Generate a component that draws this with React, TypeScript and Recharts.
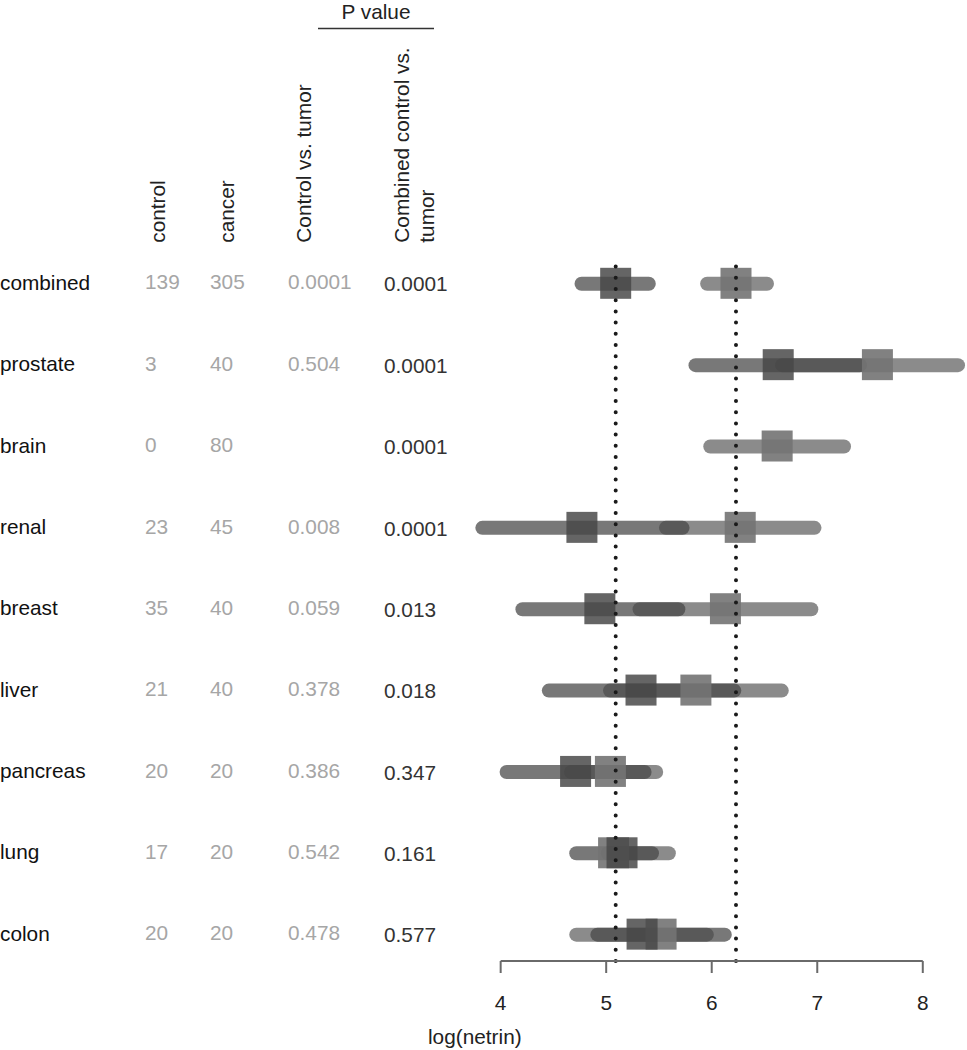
import React from 'react';
import { ComposedChart, Bar, XAxis, YAxis, ReferenceLine } from 'recharts';

// ---- data ----
const categories = ['combined', 'prostate', 'brain', 'renal', 'breast', 'liver', 'pancreas', 'lung', 'colon'];
const controlN = ['139', '3', '0', '23', '35', '21', '20', '17', '20'];
const cancerN = ['305', '40', '80', '45', '40', '40', '20', '20', '20'];
const pControlVsTumor = ['0.0001', '0.504', '', '0.008', '0.059', '0.378', '0.386', '0.542', '0.478'];
const pCombinedVsTumor = ['0.0001', '0.0001', '0.0001', '0.0001', '0.013', '0.018', '0.347', '0.161', '0.577'];

const controlLow = [4.70, 5.78, null, 3.76, 4.14, 4.39, 3.99, 4.65, 4.85];
const controlHigh = [5.47, 7.47, null, 5.79, 5.75, 6.28, 5.43, 5.50, 6.19];
const controlMedian = [5.09, 6.63, null, 4.77, 4.94, 5.33, 4.71, 5.15, 5.34];
const cancerLow = [5.89, 6.60, 5.92, 5.50, 5.25, 4.97, 4.60, 4.95, 4.65];
const cancerHigh = [6.59, 8.40, 7.32, 7.04, 7.01, 6.73, 5.54, 5.66, 6.02];
const cancerMedian = [6.23, 7.57, 6.62, 6.27, 6.13, 5.85, 5.04, 5.07, 5.52];

const xTicks = [4, 5, 6, 7, 8];

const data = categories.map((name, i) => ({
  name,
  controlRange: controlLow[i] == null ? null : [controlLow[i], controlHigh[i]],
  cancerRange: cancerLow[i] == null ? null : [cancerLow[i], cancerHigh[i]],
  controlMedian: controlMedian[i],
  cancerMedian: cancerMedian[i],
}));

// ---- styling ----
const FONT = '"Liberation Sans", Arial, Helvetica, sans-serif';
const FS = 20.8;
const GRAY = '#a6a6a6';
const DARK = '#333333';
const BLACK = '#111111';

const CONTROL = { fill: 'rgb(70,70,70)', opacity: 0.73 };
const CANCER = { fill: 'rgb(110,110,110)', opacity: 0.8 };
const CONTROL_SQ = { fill: 'rgb(72,72,72)', opacity: 0.84 };
const CANCER_SQ = { fill: 'rgb(115,115,115)', opacity: 0.9 };

const SQ = 31;
const PILL = 14;

const makePill = (key: string, style: { fill: string; opacity: number }) => (props: any) => {
  const { x, y, width, height, payload } = props;
  if (!payload || payload[key] == null || !isFinite(x) || !isFinite(width)) return <g />;
  return (
    <rect
      x={x}
      y={y}
      width={width}
      height={height}
      rx={height / 2}
      ry={height / 2}
      fill={style.fill}
      fillOpacity={style.opacity}
    />
  );
};

const makeSquare = (key: string, style: { fill: string; opacity: number }) => (props: any) => {
  const { x, y, width, height, payload } = props;
  if (!payload || payload[key] == null || !isFinite(x) || !isFinite(width)) return <g />;
  const cx = x + width;
  const cy = y + height / 2;
  return (
    <rect
      x={cx - SQ / 2}
      y={cy - SQ / 2}
      width={SQ}
      height={SQ}
      fill={style.fill}
      fillOpacity={style.opacity}
    />
  );
};

const COL_LABEL = 0;
const COL_CONTROL = 145;
const COL_CANCER = 210;
const COL_P1 = 288;
const COL_P2 = 384;

const TableTick = (props: any) => {
  const { y, payload } = props;
  const i = categories.indexOf(payload?.value);
  if (i < 0) return <g />;
  const common = { fontFamily: FONT, fontSize: FS, textAnchor: 'start' as const };
  return (
    <g>
      <text x={COL_LABEL} y={y + 6.5} fill={BLACK} {...common}>{categories[i]}</text>
      <text x={COL_CONTROL} y={y + 6} fill={GRAY} {...common}>{controlN[i]}</text>
      <text x={COL_CANCER} y={y + 6} fill={GRAY} {...common}>{cancerN[i]}</text>
      <text x={COL_P1} y={y + 6} fill={GRAY} {...common}>{pControlVsTumor[i]}</text>
      <text x={COL_P2} y={y + 8} fill={DARK} {...common}>{pCombinedVsTumor[i]}</text>
    </g>
  );
};

const catPadding = { top: -19.2, bottom: -14 };
const frameBottom = categories.length - 1;

export default function App() {
  return (
    <div style={{ position: 'absolute', left: 0, top: 0, width: 967, height: 1050, background: '#fff' }}>
      <ComposedChart
        width={967}
        height={1050}
        data={data}
        layout="vertical"
        margin={{ top: 262, right: 2, bottom: 0, left: 0 }}
      >
        <XAxis
          type="number"
          xAxisId={0}
          domain={[3.7, 8.4]}
          ticks={xTicks}
          height={89}
          axisLine={false}
          tickLine={{ stroke: '#6a6a6a', strokeWidth: 2 }}
          tickSize={12}
          tickMargin={22}
          tick={{ fill: '#222', fontSize: FS, fontFamily: FONT }}
        />
        <YAxis
          yAxisId="a"
          type="category"
          dataKey="name"
          width={469}
          axisLine={false}
          tickLine={false}
          interval={0}
          padding={catPadding}
          tick={<TableTick />}
        />
        <YAxis yAxisId="b" type="category" dataKey="name" hide padding={catPadding} />
        <YAxis yAxisId="c" type="category" dataKey="name" hide padding={catPadding} />
        <YAxis yAxisId="d" type="category" dataKey="name" hide padding={catPadding} />
        <YAxis yAxisId="frame" type="number" domain={[0, frameBottom]} allowDataOverflow hide />

        <Bar
          dataKey="cancerRange"
          yAxisId="b"
          barSize={PILL}
          isAnimationActive={false}
          shape={makePill('cancerRange', CANCER)}
        />
        <Bar
          dataKey="controlRange"
          yAxisId="a"
          barSize={PILL}
          isAnimationActive={false}
          shape={makePill('controlRange', CONTROL)}
        />
        <Bar
          dataKey="cancerMedian"
          yAxisId="d"
          barSize={SQ}
          isAnimationActive={false}
          shape={makeSquare('cancerMedian', CANCER_SQ)}
        />
        <Bar
          dataKey="controlMedian"
          yAxisId="c"
          barSize={SQ}
          isAnimationActive={false}
          shape={makeSquare('controlMedian', CONTROL_SQ)}
        />

        <ReferenceLine
          x={controlMedian[0] as number}
          yAxisId="a"
          stroke="#1a1a1a"
          strokeWidth={4}
          strokeDasharray="0 11.2"
          strokeLinecap="round"
          ifOverflow="visible"
        />
        <ReferenceLine
          x={cancerMedian[0]}
          yAxisId="a"
          stroke="#1a1a1a"
          strokeWidth={4}
          strokeDasharray="0 11.2"
          strokeLinecap="round"
          ifOverflow="visible"
        />
        <ReferenceLine
          yAxisId="frame"
          segment={[{ x: xTicks[0], y: frameBottom }, { x: xTicks[xTicks.length - 1], y: frameBottom }]}
          stroke="#6a6a6a"
          strokeWidth={2}
          ifOverflow="visible"
        />
      </ComposedChart>

      <svg
        width={967}
        height={1050}
        style={{ position: 'absolute', left: 0, top: 0, pointerEvents: 'none' }}
      >
        <g fontFamily={FONT} fontSize={FS} fill="#222">
          <text x={376} y={18.5} textAnchor="middle">P value</text>
          <line x1={318} x2={434} y1={28.5} y2={28.5} stroke="#333" strokeWidth={1.5} />
          <text transform="translate(165,242.7) rotate(-90)">control</text>
          <text transform="translate(234,242.7) rotate(-90)">cancer</text>
          <text transform="translate(311,242.7) rotate(-90)">Control vs. tumor</text>
          <text transform="translate(409,242.7) rotate(-90)">Combined control vs.</text>
          <text transform="translate(434,242.7) rotate(-90)">tumor</text>
          <text x={428} y={1044}>log(netrin)</text>
        </g>
      </svg>
    </div>
  );
}
